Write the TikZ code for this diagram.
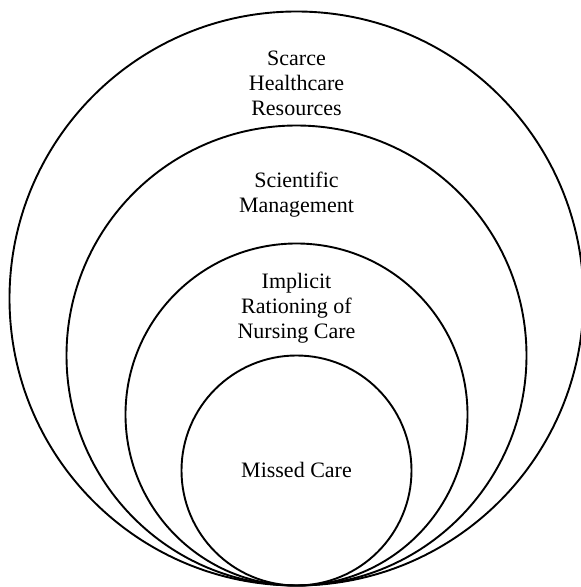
\documentclass[tikz,border=0pt]{standalone}
\usepackage{fontspec}
\setmainfont{Liberation Serif}
\begin{document}
\begin{tikzpicture}[x=1pt,y=1pt,
  ring/.style={circle,draw,line width=1.9pt,inner sep=0pt,minimum size=#1},
  label/.style={align=center,anchor=base,font=\fontsize{22}{25}\selectfont,inner sep=0pt}]
\useasboundingbox (0,0) rectangle (581,587);
\node[ring=574pt] (outer) at (296.5,288.5) {};
\node[ring=460pt] (second) at (296.5,231.5) {};
\node[ring=342pt] (third) at (296.5,172.5) {};
\node[ring=230pt] (inner) at (296.5,116.5) {};
\node[label] (t1) at (296.5,471) {Scarce\\Healthcare\\Resources};
\node[label] (t2) at (296.5,374) {Scientific\\Management};
\node[label] (t3) at (296.5,248) {Implicit\\Rationing of\\Nursing Care};
\node[label] (t4) at (296.5,109) {Missed Care};
\end{tikzpicture}
\end{document}
